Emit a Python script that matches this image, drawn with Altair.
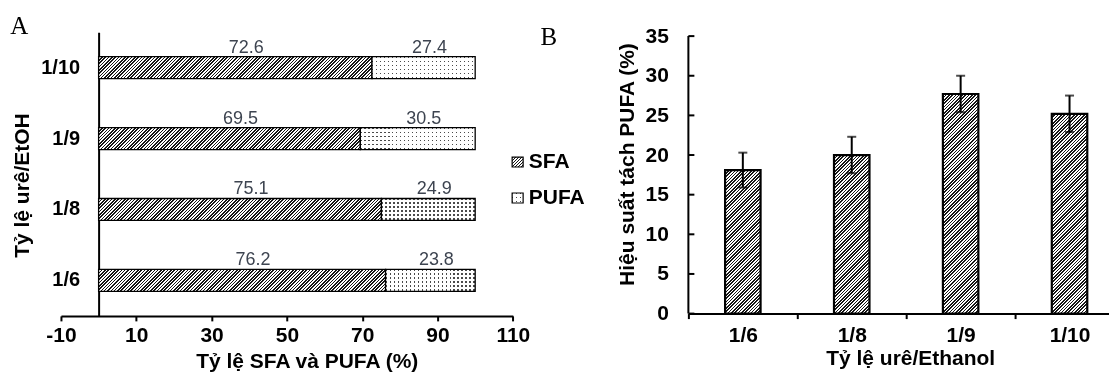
import altair as alt
import pandas as pd

# ---------------- data ----------------
ratios_a = ["1/10", "1/9", "1/8", "1/6"]
sfa = [72.6, 69.5, 75.1, 76.2]
pufa = [27.4, 30.5, 24.9, 23.8]

ratios_b = ["1/6", "1/8", "1/9", "1/10"]
yield_b = [18.1, 20.0, 27.7, 25.2]
err_b = [2.2, 2.3, 2.3, 2.3]

x_ticks_a = [-10, 10, 30, 50, 70, 90, 110]
y_ticks_b = [0, 5, 10, 15, 20, 25, 30, 35]

FONT = "Liberation Sans"
SERIF = "Liberation Serif"
FS = 21

# ---------------- sizes ----------------
WA, HA = 452.3, 284.0
XA_DOM = [-10, 110]
PXA = WA / (XA_DOM[1] - XA_DOM[0])
BAR_A = 22

WB, HB = 436.0, 281.7
YB_DOM = [0, 35.5]
PXB = HB / (YB_DOM[1] - YB_DOM[0])
BAR_B = 35.5


def hatch(w, h, period=3.3, frac=0.48, dark="#161616", light="#ffffff"):
    L = w + h
    S = w * w + h * h
    dx, dy = w * L / S, h * L / S
    p = period / L
    stops = []
    k = 0
    while k * p < 1:
        a = round(k * p, 5)
        b = round(min(1.0, k * p + frac * p), 5)
        stops += [{"offset": a, "color": light}, {"offset": a, "color": dark},
                  {"offset": b, "color": dark}, {"offset": b, "color": light}]
        k += 1
    return {"gradient": "linear", "x1": 0, "y1": 0, "x2": dx, "y2": dy, "stops": stops}


def stripes(length, vertical, period=4.0, frac=0.3, dark="#4a4a4a", light="#ffffff"):
    p = period / length
    stops = []
    k = 0
    while k * p < 1:
        a = round(k * p, 5)
        b = round(min(1.0, k * p + frac * p), 5)
        stops += [{"offset": a, "color": light}, {"offset": a, "color": dark},
                  {"offset": b, "color": dark}, {"offset": b, "color": light}]
        k += 1
    if vertical:
        return {"gradient": "linear", "x1": 0, "y1": 0, "x2": 1, "y2": 0, "stops": stops}
    return {"gradient": "linear", "x1": 0, "y1": 0, "x2": 0, "y2": 1, "stops": stops}


dfA = pd.DataFrame({"ratio": ratios_a, "sfa": sfa, "pufa": pufa})
dfA["start"] = 0.0
dfA["total"] = dfA["sfa"] + dfA["pufa"]

dfB = pd.DataFrame({"ratio": ratios_b, "v": yield_b, "e": err_b})
dfB["zero"] = 0.0
dfB["lo"] = dfB["v"] - dfB["e"]
dfB["hi"] = dfB["v"] + dfB["e"]

# ---------------- panel A ----------------
xA = alt.Scale(domain=XA_DOM, nice=False, zero=False)
yA = alt.Scale(domain=ratios_a, paddingInner=0, paddingOuter=0)

x_axis_a = alt.Axis(values=x_ticks_a, grid=False, domainColor="black", domainWidth=2,
                    tickColor="black", tickWidth=2, tickSize=5, labelFlush=False,
                    labelExpr="'' + datum.value",
                    labelFont=FONT, labelFontSize=FS, labelFontWeight="bold", labelColor="black",
                    labelPadding=4, title="Tỷ lệ  SFA và PUFA (%)", titleFont=FONT,
                    titleFontSize=FS, titleFontWeight="bold", titleColor="black",
                    titlePadding=5, titleX=246)
y_axis_a = alt.Axis(offset=-(0 - XA_DOM[0]) * PXA, ticks=False, tickSize=0,
                    domainColor="black", domainWidth=2, labelFont=FONT, labelFontSize=20,
                    labelFontWeight="bold", labelColor="black", labelPadding=19,
                    title="Tỷ lệ urê/EtOH", titleFont=FONT, titleFontSize=FS,
                    titleFontWeight="bold", titleColor="black", titlePadding=8, titleY=153)


def XA(field):
    return alt.X(field, scale=xA, axis=x_axis_a)


def YA():
    return alt.Y("ratio:N", scale=yA, axis=y_axis_a, sort=ratios_a)


layersA = []
for i, r in enumerate(ratios_a):
    sub = alt.Chart(dfA).transform_filter(alt.datum.ratio == r)
    w = sfa[i] * PXA
    layersA.append(
        sub.mark_bar(size=BAR_A, fill=hatch(w, BAR_A), stroke="black", strokeWidth=1.3).encode(
            x=XA("start:Q"), x2="sfa:Q", y=YA()))
    wp = pufa[i] * PXA
    layersA.append(
        sub.mark_bar(size=BAR_A, fill=stripes(wp, True)).encode(
            x=XA("sfa:Q"), x2="total:Q", y=YA()))
    layersA.append(
        sub.mark_bar(size=BAR_A, fill=stripes(BAR_A, False), blend="lighten").encode(
            x=XA("sfa:Q"), x2="total:Q", y=YA()))
    layersA.append(
        sub.mark_bar(size=BAR_A, fill="white", fillOpacity=0, stroke="black", strokeWidth=1.3).encode(
            x=XA("sfa:Q"), x2="total:Q", y=YA()))

lbl_color = "#3d4450"
textA1 = alt.Chart(dfA).transform_calculate(mid="datum.sfa / 2").mark_text(
    font=FONT, fontSize=18, color=lbl_color, baseline="alphabetic", dy=-15, dx=11
).encode(x=XA("mid:Q"), y=YA(), text=alt.Text("sfa:Q", format=".1f"))
textA2 = alt.Chart(dfA).transform_calculate(mid="datum.sfa + datum.pufa / 2").mark_text(
    font=FONT, fontSize=18, color=lbl_color, baseline="alphabetic", dy=-15, dx=6
).encode(x=XA("mid:Q"), y=YA(), text=alt.Text("pufa:Q", format=".1f"))

# legend (drawn manually, hatched swatches)
leg_names = ["SFA", "PUFA"]
legend_df = pd.DataFrame({"name": leg_names})
sw_w, sw_h = 11, 10
LX = 451.6
leg_sfa = alt.Chart(legend_df).transform_filter(alt.datum.name == "SFA").mark_rect(
    fill=hatch(sw_w, sw_h, period=3.0), stroke="black", strokeWidth=1.2
).encode(x=alt.value(LX), x2=alt.value(LX + sw_w), y=alt.value(125), y2=alt.value(125 + sw_h))
leg_pufa1 = alt.Chart(legend_df).transform_filter(alt.datum.name == "PUFA").mark_rect(
    fill=stripes(sw_w, True)
).encode(x=alt.value(LX), x2=alt.value(LX + sw_w), y=alt.value(161), y2=alt.value(161 + sw_h))
leg_pufa2 = alt.Chart(legend_df).transform_filter(alt.datum.name == "PUFA").mark_rect(
    fill=stripes(sw_h, False), blend="lighten"
).encode(x=alt.value(LX), x2=alt.value(LX + sw_w), y=alt.value(161), y2=alt.value(161 + sw_h))
leg_pufa3 = alt.Chart(legend_df).transform_filter(alt.datum.name == "PUFA").mark_rect(
    fill="white", fillOpacity=0, stroke="black", strokeWidth=1.2
).encode(x=alt.value(LX), x2=alt.value(LX + sw_w), y=alt.value(161), y2=alt.value(161 + sw_h))
leg_t1 = alt.Chart(legend_df).transform_filter(alt.datum.name == "SFA").mark_text(
    font=FONT, fontSize=FS, fontWeight="bold", align="left", baseline="middle", color="black"
).encode(x=alt.value(468.3), y=alt.value(130), text="name:N")
leg_t2 = alt.Chart(legend_df).transform_filter(alt.datum.name == "PUFA").mark_text(
    font=FONT, fontSize=FS, fontWeight="bold", align="left", baseline="middle", color="black"
).encode(x=alt.value(468.3), y=alt.value(166), text="name:N")

panel_df = pd.DataFrame({"p": ["A", "B"]})
lab_A = alt.Chart(panel_df).transform_filter(alt.datum.p == "A").mark_text(
    font=SERIF, fontSize=25, align="left", baseline="alphabetic", color="black"
).encode(x=alt.value(-50.7), y=alt.value(2), text="p:N")
lab_B = alt.Chart(panel_df).transform_filter(alt.datum.p == "B").mark_text(
    font=SERIF, fontSize=25, align="left", baseline="alphabetic", color="black"
).encode(x=alt.value(480), y=alt.value(13), text="p:N")

panelA = alt.layer(*layersA, textA1, textA2, leg_sfa, leg_pufa1, leg_pufa2, leg_pufa3,
                   leg_t1, leg_t2, lab_A, lab_B).properties(width=WA, height=HA)

# ---------------- panel B ----------------
xB = alt.Scale(domain=ratios_b, paddingInner=0, paddingOuter=0)
yB = alt.Scale(domain=YB_DOM, nice=False, zero=True)

x_axis_b = alt.Axis(tickBand="extent", grid=False, labelAngle=0, domainColor="black",
                    domainWidth=2, tickColor="black", tickWidth=2, tickSize=5,
                    labelFont=FONT, labelFontSize=FS, labelFontWeight="bold", labelColor="black",
                    labelPadding=6, title="Tỷ lệ urê/Ethanol", titleFont=FONT, titleFontSize=FS,
                    titleFontWeight="bold", titleColor="black", titlePadding=2, titleX=222)
y_axis_b = alt.Axis(values=y_ticks_b, grid=False, domain=False, ticks=False, tickSize=0,
                    labelFont=FONT, labelFontSize=FS, labelFontWeight="bold", labelColor="black",
                    labelPadding=20, title="Hiệu suất tách PUFA (%)", titleFont=FONT,
                    titleFontSize=FS, titleFontWeight="bold", titleColor="black", titlePadding=8,
                    titleY=132)


def XB():
    return alt.X("ratio:N", scale=xB, axis=x_axis_b, sort=ratios_b)


def YB(field):
    return alt.Y(field, scale=yB, axis=y_axis_b)


layersB = []
for i, r in enumerate(ratios_b):
    sub = alt.Chart(dfB).transform_filter(alt.datum.ratio == r)
    h = yield_b[i] * PXB
    layersB.append(
        sub.mark_bar(size=BAR_B, fill=hatch(BAR_B, h), stroke="black", strokeWidth=2.2).encode(
            x=XB(), y=YB("zero:Q"), y2="v:Q"))

ticks_df = pd.DataFrame({"t": y_ticks_b})
ticks_df["t0"] = y_ticks_b[0]
ticks_df["t1"] = y_ticks_b[-1]
y_domain_b = alt.Chart(ticks_df.head(1)).mark_rule(color="black", strokeWidth=2).encode(
    x=alt.value(0), y=YB("t0:Q"), y2="t1:Q")
y_ticks_in = alt.Chart(ticks_df).mark_rule(color="black", strokeWidth=2).encode(
    x=alt.value(0), x2=alt.value(6), y=YB("t:Q"))

err_rule = alt.Chart(dfB).mark_rule(color="black", strokeWidth=2).encode(
    x=XB(), y=YB("lo:Q"), y2="hi:Q")
err_lo = alt.Chart(dfB).mark_tick(color="black", thickness=2, size=9).encode(
    x=XB(), y=YB("lo:Q"))
err_hi = alt.Chart(dfB).mark_tick(color="black", thickness=2, size=9).encode(
    x=XB(), y=YB("hi:Q"))

panelB = alt.layer(*layersB, err_rule, err_lo, err_hi, y_domain_b, y_ticks_in).properties(
    width=WB, height=HB)

chart = alt.hconcat(panelA, panelB, spacing=30).properties(
    padding={"left": 2, "top": 6, "right": -16, "bottom": 0},
    background="white",
).configure_view(strokeWidth=0)

chart.save("out.html", embed_options={"renderer": "svg", "actions": False})
